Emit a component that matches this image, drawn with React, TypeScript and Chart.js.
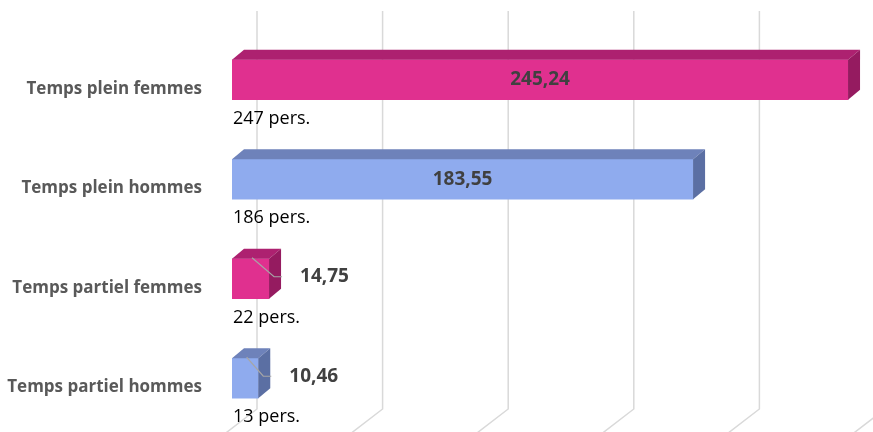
import React, { useEffect, useRef } from "react";
import { Chart, registerables } from "chart.js";

Chart.register(...registerables);

const categories = [
  "Temps plein femmes",
  "Temps plein hommes",
  "Temps partiel femmes",
  "Temps partiel hommes",
];
const values = [245.24, 183.55, 14.75, 10.46];
const valueLabels = ["245,24", "183,55", "14,75", "10,46"];
const persons = [247, 186, 22, 13];
const gridTicks = [0, 50, 100, 150, 200, 250];

const PINK = { front: "#E0308F", top: "#AD2170", side: "#951B60" };
const BLUE = { front: "#8FABEE", top: "#6E82BA", side: "#5B6FA3" };
const palette = [PINK, BLUE, PINK, BLUE];

const DX = 12;
const DY = -10;
const WALL_DX = 25;
const FONT = "'Open Sans', Lato, sans-serif";

const threeD = {
  id: "threeD",
  beforeDatasetsDraw(chart: any) {
    const ctx = chart.ctx;
    const xs = chart.scales.x;
    ctx.save();
    ctx.strokeStyle = "#d9d9d9";
    ctx.lineWidth = 1.5;
    gridTicks.forEach((v) => {
      const x = xs.getPixelForValue(v) + WALL_DX;
      ctx.beginPath();
      ctx.moveTo(x, 11);
      ctx.lineTo(x, 409);
      ctx.lineTo(x - 1.3 * 40, 409 + 40);
      ctx.stroke();
    });
    ctx.restore();
  },
  afterDatasetsDraw(chart: any) {
    const ctx = chart.ctx;
    const meta = chart.getDatasetMeta(0);
    ctx.save();
    meta.data.forEach((bar: any, i: number) => {
      const c = palette[i];
      const top = bar.y - bar.height / 2;
      const bottom = bar.y + bar.height / 2;
      const x0 = bar.base;
      const x1 = bar.x;
      ctx.fillStyle = c.top;
      ctx.beginPath();
      ctx.moveTo(x0, top);
      ctx.lineTo(x0 + DX, top + DY);
      ctx.lineTo(x1 + DX, top + DY);
      ctx.lineTo(x1, top);
      ctx.closePath();
      ctx.fill();
      ctx.fillStyle = c.side;
      ctx.beginPath();
      ctx.moveTo(x1, top);
      ctx.lineTo(x1 + DX, top + DY);
      ctx.lineTo(x1 + DX, bottom + DY);
      ctx.lineTo(x1, bottom);
      ctx.closePath();
      ctx.fill();
    });

    ctx.font = `bold 19px ${FONT}`;
    ctx.textBaseline = "middle";
    meta.data.forEach((bar: any, i: number) => {
      const txt = valueLabels[i];
      const w = ctx.measureText(txt).width;
      const top = bar.y - bar.height / 2;
      const bw = bar.x - bar.base;
      ctx.fillStyle = "#404040";
      if (w + 20 < bw) {
        ctx.textAlign = "center";
        ctx.fillText(txt, (bar.base + bar.x) / 2, bar.y);
      } else {
        const lx = bar.x + DX + 19;
        const ly = bar.y - 2;
        ctx.textAlign = "left";
        ctx.fillText(txt, lx, ly);
        ctx.strokeStyle = "#a6a6a6";
        ctx.lineWidth = 1.2;
        ctx.beginPath();
        ctx.moveTo((bar.base + bar.x) / 2 + 1.5, top - 1);
        ctx.lineTo(lx - 26, ly);
        ctx.lineTo(lx - 18, ly);
        ctx.stroke();
      }
    });

    ctx.font = `18px ${FONT}`;
    ctx.fillStyle = "#000000";
    ctx.textAlign = "left";
    ctx.textBaseline = "middle";
    meta.data.forEach((bar: any, i: number) => {
      const bottom = bar.y + bar.height / 2;
      ctx.fillText(`${persons[i]} pers.`, bar.base + 1, bottom + 19);
    });
    ctx.restore();
  },
};

export default function App() {
  const ref = useRef<HTMLCanvasElement>(null);
  useEffect(() => {
    if (!ref.current) return;
    const chart = new Chart(ref.current, {
      type: "bar",
      data: {
        labels: categories,
        datasets: [
          {
            data: values,
            backgroundColor: palette.map((p) => p.front),
            borderWidth: 0,
            barThickness: 40,
          },
        ],
      },
      options: {
        indexAxis: "y",
        animation: false,
        responsive: false,
        layout: { padding: { top: 30, bottom: 4, right: 13, left: 0 } },
        plugins: {
          legend: { display: false },
          tooltip: { enabled: false },
        },
        scales: {
          x: {
            display: false,
            min: 0,
            max: 250,
          },
          y: {
            grid: { display: false, drawTicks: false },
            border: { display: false },
            ticks: {
              padding: 30,
              labelOffset: 9,
              color: "#595959",
              font: { family: FONT, size: 17, weight: "bold" },
            },
            afterFit: (s: any) => {
              s.width = 232;
              s.paddingTop = 0;
              s.paddingBottom = 0;
            },
          },
        },
      },
      plugins: [threeD],
    });
    return () => chart.destroy();
  }, []);
  return (
    <div style={{ position: "fixed", left: 0, top: 0, width: 873, height: 432, background: "#fff" }}>
      <canvas ref={ref} width={873} height={432} />
    </div>
  );
}
